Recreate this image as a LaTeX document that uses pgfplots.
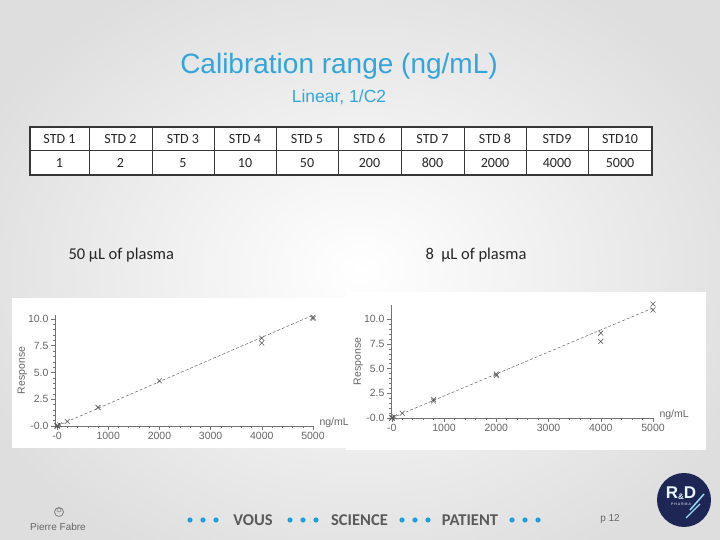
\documentclass[border=0pt]{standalone}
\usepackage{fontspec}
\setmainfont{Liberation Sans}
\newfontfamily\calib{Carlito}
\usepackage{pgfplots}
\pgfplotsset{compat=1.18}
\definecolor{titleblue}{RGB}{52,165,218}
\definecolor{dotblue}{RGB}{30,160,220}
\definecolor{navy}{RGB}{30,38,85}
\definecolor{tgray}{RGB}{90,90,90}
\definecolor{tline}{RGB}{55,55,55}

\pgfplotsset{calib/.style={
  scale only axis,
  axis x line*=bottom, axis y line*=left,
  axis line style={black!55, line width=0.6pt},
  tick style={black!55, line width=0.5pt},
  tick align=outside,
  major tick length=4pt, minor tick length=2.5pt,
  xtick={0,1000,2000,3000,4000,5000},
  xticklabels={-0,1000,2000,3000,4000,5000},
  ytick={0,2.5,5,7.5,10},
  yticklabels={-0.0,2.5,5.0,7.5,10.0},
  minor x tick num=4, minor y tick num=4,
  tick label style={font=\fontsize{10.5}{11}\selectfont, text=black!60},
  xticklabel style={yshift=1pt},
  yticklabel style={xshift=1pt},
  ylabel={Response},
  ylabel shift=-6pt,
  ylabel style={font=\fontsize{10.5}{11}\selectfont, text=black!60},
  clip=false}}

\begin{document}
\begin{tikzpicture}
\begin{scope}[x=1pt,y=1pt]
\useasboundingbox (0,0) rectangle (720,540);
\shade[inner color=white, outer color=black!13] (-60,-60) rectangle (780,600);

% title
\node[text=titleblue, font=\fontsize{28}{32}\selectfont] at (339,474) {Calibration range (ng/mL)};
\node[text=titleblue, font=\fontsize{17.5}{20}\selectfont] at (339,443) {Linear, 1/C2};

% table
\fill[white] (30,365) rectangle (652,413);
\foreach \x in {89,152,214,276,338,401,464,526,588}
  \draw[tline, line width=1pt] (\x,365) -- (\x,413);
\draw[tline, line width=1pt] (30,389) -- (652,389);
\draw[tline, line width=1.8pt] (30,365) rectangle (652,413);
\foreach \c/\t/\v in {59.5/STD 1/1, 120.5/STD 2/2, 183/STD 3/5, 245/STD 4/10, 307/STD 5/50, 369.5/STD 6/200, 432.5/STD 7/800, 495/STD 8/2000, 557/STD9/4000, 620/STD10/5000}{
  \node[font=\calib\fontsize{14}{15}\selectfont, text=black!85] at (\c,401) {\t};
  \node[font=\calib\fontsize{14}{15}\selectfont, text=black!85] at (\c,377) {\v};
}

% plasma labels
\node[anchor=west, font=\calib\fontsize{16.5}{18}\selectfont, text=black!85] at (65,285) {50 µL of plasma};
\node[anchor=west, font=\calib\fontsize{16.5}{18}\selectfont, text=black!85] at (422,285) {8\ \ µL of plasma};

% white panels
\fill[white] (12,92) rectangle (358,242);
\fill[white] (346,90) rectangle (706,248);
\end{scope}

% left plot
\begin{axis}[calib, at={(55pt,114pt)}, anchor=south west, width=258pt, height=111pt,
  xmin=-40, xmax=5000, ymin=0, ymax=10.37]
\addplot[densely dashed, black!60, line width=0.5pt] coordinates {(0,0) (5000,10.35)};
\addplot[only marks, mark=x, mark size=3.5pt, black!65, mark options={line width=0.55pt}] coordinates {
(1,0.00) (2,0.00) (5,0.01) (10,0.02) (50,0.10) (200,0.42) (800,1.74)
(2000,4.22) (4000,8.2) (4000,7.75) (5000,10.15) (5000,10.05)};
\node[anchor=west, font=\fontsize{10.5}{11}\selectfont, text=black!60, xshift=3pt, yshift=3pt] at (rel axis cs:1,0) {ng/mL};
\end{axis}

% right plot
\begin{axis}[calib, at={(391pt,122pt)}, anchor=south west, width=262pt, height=113pt,
  xmin=-15, xmax=5000, ymin=0, ymax=11.45]
\addplot[densely dashed, black!60, line width=0.5pt] coordinates {(0,0) (5000,11.15)};
\addplot[only marks, mark=x, mark size=3.5pt, black!65, mark options={line width=0.55pt}] coordinates {
(1,0.00) (2,0.00) (5,0.01) (10,0.02) (50,0.11) (200,0.48) (800,1.72) (800,1.88)
(2000,4.3) (2000,4.45) (4000,8.6) (4000,7.75) (5000,11.55) (5000,10.95)};
\node[anchor=west, font=\fontsize{10.5}{11}\selectfont, text=black!60, xshift=3pt, yshift=3pt] at (rel axis cs:1,0) {ng/mL};
\end{axis}

\begin{scope}[x=1pt,y=1pt]
% footer
\draw[black!50, line width=0.8pt] (59,28) circle (4.5);
\draw[black!50, line width=0.6pt] (59,30) circle (2);
\node[font=\fontsize{10}{11}\selectfont, text=black!60] at (58,13) {Pierre Fabre};
\foreach \x in {190,203,216,290,303,316,402,415,428,512,525,538}
  \fill[dotblue] (\x,20) circle (2.6);
\node[font=\calib\bfseries\fontsize{16.5}{17}\selectfont, text=tgray] at (253,20) {VOUS};
\node[font=\calib\bfseries\fontsize{16.5}{17}\selectfont, text=tgray] at (359.5,20) {SCIENCE};
\node[font=\calib\bfseries\fontsize{16.5}{17}\selectfont, text=tgray] at (470,20) {PATIENT};
\node[font=\fontsize{10}{11}\selectfont, text=black!60] at (610,21) {p 12};
\fill[navy] (684,40) circle (27);
\draw[cyan!40, line width=1.5pt] (690,30) -- (704,46);
\draw[cyan!40, line width=1.2pt] (686,22) -- (700,36);
\node[font=\bfseries\fontsize{17}{18}\selectfont, text=white!90!cyan] at (681,47) {R\raisebox{-1pt}{\fontsize{8}{8}\selectfont \&}D};
\node[font=\fontsize{3.5}{4}\selectfont, text=white!80] at (681,36) {P H A R M A};
\end{scope}
\end{tikzpicture}
\end{document}
